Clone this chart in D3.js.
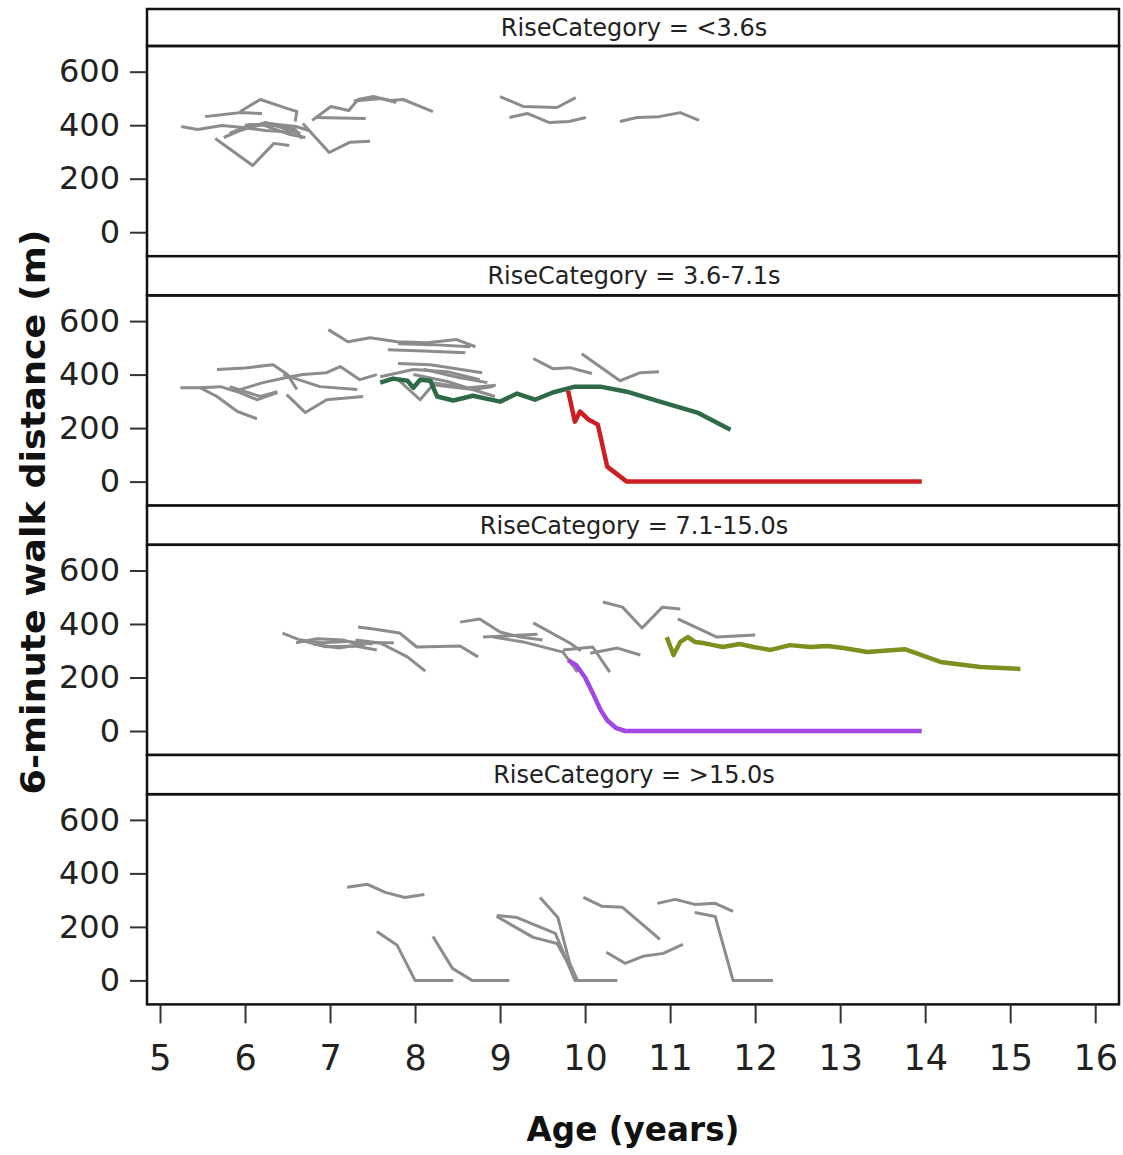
<!DOCTYPE html>
<html><head><meta charset="utf-8">
<script src="https://cdn.jsdelivr.net/npm/d3@7"></script>
<style>body{margin:0;background:#fff}svg{display:block}</style>
</head><body><svg id="c" width="1123" height="1155"></svg>
<script>
// ---------- data ----------
const categories = ["<3.6s", "3.6-7.1s", "7.1-15.0s", ">15.0s"];
const xTicks = [5, 6, 7, 8, 9, 10, 11, 12, 13, 14, 15, 16];
const yTicks = [0, 200, 400, 600];

// individual trajectories (age in years, 6MWD in m), grey
const greyP1 = [
  [[5.25,395],[5.44,384],[5.73,399],[5.94,392],[6.24,380],[6.61,373]],
  [[5.53,432],[5.75,440],[5.94,447],[6.2,444]],
  [[5.94,450],[6.18,496],[6.5,462],[6.61,451],[6.59,414]],
  [[5.65,350],[6.09,249],[6.34,332],[6.52,324]],
  [[5.75,354],[6.0,388],[6.2,402],[6.53,365],[6.71,354]],
  [[5.82,369],[6.06,402],[6.35,399],[6.65,369]],
  [[5.94,380],[6.24,410],[6.59,384],[6.67,350]],
  [[6.0,400],[6.3,405],[6.6,395],[6.75,380]],
  [[6.68,406],[6.99,298],[7.23,336],[7.47,340]],
  [[6.79,418],[7.01,470],[7.22,455],[7.33,496],[7.51,507],[7.7,492],[7.86,496],[8.21,451]],
  [[6.82,429],[7.42,425]],
  [[7.28,490],[7.6,500],[7.78,485]],
  [[9.0,507],[9.27,470],[9.67,466],[9.89,503]],
  [[9.11,429],[9.32,444],[9.58,410],[9.81,414],[10.01,429]],
  [[10.41,414],[10.61,429],[10.87,432],[11.12,447],[11.34,418]]
];
const greyP2 = [
  [[6.98,568],[7.21,523],[7.47,538],[7.79,523],[8.14,519],[8.49,531],[8.71,504]],
  [[7.8,515],[8.2,512],[8.65,504]],
  [[7.68,493],[8.1,488],[8.59,482]],
  [[5.67,419],[6.0,425],[6.33,437],[6.5,400],[6.61,344]],
  [[5.24,351],[5.47,351],[5.71,355],[5.94,333],[6.14,306],[6.38,333]],
  [[5.47,351],[5.67,318],[5.91,262],[6.14,235]],
  [[5.94,344],[6.21,370],[6.49,389],[6.68,400],[6.96,407],[7.12,430],[7.35,381],[7.55,400]],
  [[6.49,325],[6.71,258],[6.96,306],[7.39,318]],
  [[6.45,400],[6.88,355],[7.32,344]],
  [[5.82,355],[6.18,318],[6.38,336]],
  [[7.8,441],[8.18,437],[8.79,407]],
  [[7.59,392],[7.98,419],[8.38,411],[8.76,381]],
  [[7.8,381],[8.06,306],[8.21,362],[8.68,344],[8.92,355]],
  [[7.98,400],[8.38,374],[8.76,336],[8.94,318]],
  [[8.1,420],[8.5,390],[8.85,370]],
  [[8.2,370],[8.6,350],[8.95,360]],
  [[9.39,460],[9.62,422],[9.82,426],[10.08,404]],
  [[9.96,478],[10.41,377],[10.65,407],[10.87,411]]
];
const greyP3 = [
  [[6.44,366],[6.65,340],[6.9,330],[7.2,335],[7.5,325]],
  [[6.6,330],[6.85,345],[7.15,340],[7.4,318]],
  [[6.65,340],[6.95,315],[7.3,318],[7.55,303]],
  [[6.8,325],[7.1,310],[7.5,330],[7.75,330]],
  [[7.33,389],[7.51,381],[7.82,366],[8.02,314],[8.53,318],[8.74,277]],
  [[7.3,340],[7.59,329],[7.91,277],[8.12,224]],
  [[8.53,407],[8.76,419],[9.0,370],[9.24,351],[9.5,340]],
  [[8.8,351],[9.44,362]],
  [[9.39,404],[9.82,329],[9.95,300]],
  [[8.92,351],[9.27,333],[9.74,295],[9.91,220]],
  [[9.74,303],[10.09,314],[10.29,220]],
  [[10.21,482],[10.44,463],[10.67,385],[10.91,463],[11.12,456]],
  [[10.06,291],[10.38,310],[10.65,284]],
  [[11.09,419],[11.55,351],[12.0,359]]
];
const greyP4 = [
  [[7.2,348],[7.44,359],[7.65,329],[7.88,310],[8.11,321]],
  [[7.55,183],[7.79,131],[8.0,0],[8.45,0]],
  [[8.21,164],[8.44,45],[8.67,0],[9.11,0]],
  [[8.96,243],[9.2,235],[9.65,176],[9.88,0],[10.38,0]],
  [[8.96,239],[9.39,161],[9.67,138],[9.91,0]],
  [[9.47,310],[9.68,235],[9.82,64],[9.91,0]],
  [[9.98,310],[10.2,277],[10.44,273],[10.88,153]],
  [[10.25,105],[10.47,64],[10.68,90],[10.92,101],[11.15,135]],
  [[10.85,288],[11.06,303],[11.29,284],[11.53,288],[11.74,258]],
  [[11.29,254],[11.53,239],[11.74,0],[12.21,0]]
];
const greyByPanel = [greyP1, greyP2, greyP3, greyP4];

// highlighted trajectories
const greenP2 = [[7.59,370],[7.74,385],[7.91,377],[7.98,351],[8.06,381],[8.18,377],[8.26,318],[8.45,303],[8.68,321],[9.0,299],[9.2,329],[9.41,306],[9.62,333],[9.88,355],[10.18,355],[10.49,336],[10.88,299],[11.32,258],[11.71,194]];
const redP2 = [[9.8,340],[9.88,224],[9.94,262],[10.04,232],[10.15,213],[10.26,56],[10.49,0],[13.96,0]];
const purpleP3 = [[9.8,265],[9.9,245],[10.0,200],[10.09,142],[10.18,80],[10.26,40],[10.36,12],[10.47,0],[13.96,0]];
const oliveP3 = [[10.96,351],[11.04,284],[11.12,333],[11.21,351],[11.29,333],[11.39,329],[11.51,321],[11.62,314],[11.82,325],[11.98,314],[12.18,303],[12.41,321],[12.65,314],[12.85,318],[13.04,310],[13.32,295],[13.76,306],[14.18,258],[14.65,239],[15.12,232]];
const highlights = [
  [],
  [{d: greenP2, c: "#2f6a48"}, {d: redP2, c: "#cc1f24"}],
  [{d: purpleP3, c: "#a246e6"}, {d: oliveP3, c: "#7d8f1c"}],
  []
];

// ---------- layout ----------
const svg = d3.select("#c");
const L = 147, R = 1119;
const plotTops = [46, 295.4, 544.8, 794.2];
const plotH = 210.2;
const headTops = [9, 256.2, 505.6, 755.0];
const FONT = "'DejaVu Sans', Verdana, sans-serif";

const x = d3.scaleLinear().domain([4.847, 16.28]).range([L, R]);
const y = d3.scaleLinear().domain([-89.7, 696]).range([plotH, 0]);
const line = d3.line().x(d => x(d[0])).y(d => y(d[1]));

categories.forEach((cat, i) => {
  const top = plotTops[i];
  // header
  svg.append("rect").attr("x", L).attr("y", headTops[i]).attr("width", R - L)
    .attr("height", top - headTops[i]).attr("fill", "#fff").attr("stroke", "#111").attr("stroke-width", 2.5);
  svg.append("text").attr("x", (L + R) / 2 + 1).attr("y", (headTops[i] + top) / 2 + 8.5)
    .attr("text-anchor", "middle").attr("font-family", FONT).attr("font-size", 24)
    .attr("fill", "#222").text("RiseCategory = " + cat);

  const g = svg.append("g").attr("transform", `translate(0,${top})`);
  g.append("defs").append("clipPath").attr("id", "clip" + i)
    .append("rect").attr("x", L).attr("y", 0).attr("width", R - L).attr("height", plotH);
  const lines = g.append("g").attr("clip-path", `url(#clip${i})`);
  lines.selectAll("path.grey").data(greyByPanel[i]).enter().append("path")
    .attr("class", "grey").attr("d", line).attr("fill", "none")
    .attr("stroke", "#8c8c8c").attr("stroke-width", 3).attr("stroke-linejoin", "round");
  lines.selectAll("path.hl").data(highlights[i]).enter().append("path")
    .attr("class", "hl").attr("d", h => line(h.d)).attr("fill", "none")
    .attr("stroke", h => h.c).attr("stroke-width", 4.5).attr("stroke-linejoin", "round");

  // y axis
  const ya = g.append("g").attr("transform", `translate(${L},0)`)
    .call(d3.axisLeft(y).tickValues(yTicks).tickSize(17).tickPadding(10).tickFormat(d3.format("d")));
  ya.select(".domain").remove();
  ya.selectAll(".tick line").attr("stroke", "#333").attr("stroke-width", 2);
  ya.selectAll(".tick text").attr("font-family", FONT).attr("font-size", 32).attr("fill", "#222");

  // frame
  g.append("rect").attr("x", L).attr("y", 0).attr("width", R - L).attr("height", plotH)
    .attr("fill", "none").attr("stroke", "#111").attr("stroke-width", 2.5);
});

// x axis under last panel
const bottom = plotTops[3] + plotH;
const xa = svg.append("g").attr("transform", `translate(0,${bottom})`)
  .call(d3.axisBottom(x).tickValues(xTicks).tickSize(19).tickPadding(22).tickFormat(d3.format("d")));
xa.select(".domain").remove();
xa.selectAll(".tick line").attr("stroke", "#333").attr("stroke-width", 2);
xa.selectAll(".tick text").attr("font-family", FONT).attr("font-size", 35).attr("fill", "#222");

// axis titles
svg.append("text").attr("x", 633).attr("y", 1141).attr("text-anchor", "middle")
  .attr("font-family", FONT).attr("font-weight", "bold").attr("font-size", 33)
  .attr("textLength", 213).attr("lengthAdjust", "spacingAndGlyphs")
  .attr("fill", "#111").text("Age (years)");
svg.append("text").attr("transform", "translate(45,512) rotate(-90)").attr("text-anchor", "middle")
  .attr("font-family", FONT).attr("font-weight", "bold").attr("font-size", 33)
  .attr("textLength", 565).attr("lengthAdjust", "spacingAndGlyphs")
  .attr("fill", "#111").text("6-minute walk distance (m)");
</script>
</body></html>
